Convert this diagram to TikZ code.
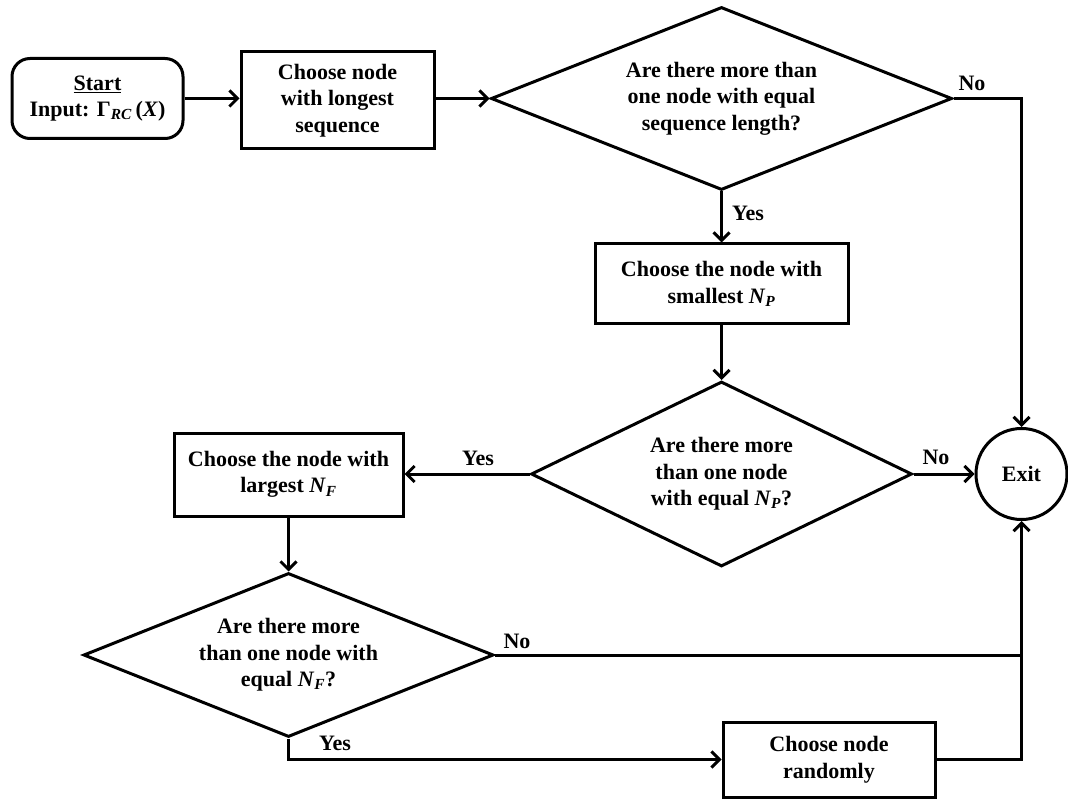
\documentclass[tikz,border=0pt]{standalone}
\usepackage{fontspec}
\setmainfont{Liberation Serif}
\usetikzlibrary{shapes.geometric,arrows.meta}
\begin{document}
\begin{tikzpicture}[x=1pt,y=-1pt, line width=3pt,
  font=\fontsize{22}{26.5}\selectfont\bfseries,
  box/.style={draw, rectangle, inner sep=0pt, align=center},
  dia/.style={draw, diamond, inner sep=0pt, align=center},
  arr/.style={-{Straight Barb[length=8pt,width=16pt]}},
  lbl/.style={inner sep=0pt}]
\useasboundingbox (0,0) rectangle (1068,799);
\node[box, rounded corners=18pt, minimum width=171pt, minimum height=80pt] (start) at (97.5,98.5)
  {\underline{Start}\\Input: Γ\textsubscript{\textit{RC}}\,(\textit{X})};
\node[box, minimum width=193pt, minimum height=97pt] (box1) at (337.5,100.5)
  {Choose node\\with longest\\sequence};
\node[dia, aspect=2.5, minimum width=461pt, minimum height=183pt] (d1) at (721.5,98.5)
  {Are there more than\\one node with equal\\sequence length?};
\node[box, minimum width=253pt, minimum height=80pt] (box2) at (721.5,284)
  {Choose the node with\\smallest \textit{N}\textsubscript{\textit{P}}};
\node[dia, aspect=2, minimum width=381pt, minimum height=185pt] (d2) at (721.5,474)
  {Are there more\\than one node\\with equal \textit{N}\textsubscript{\textit{P}}?};
\node[draw, circle, minimum size=91pt, inner sep=0pt] (exit) at (1021.5,474) {Exit};
\node[box, minimum width=229pt, minimum height=83pt] (box3) at (288.5,474.5)
  {Choose the node with\\largest \textit{N}\textsubscript{\textit{F}}};
\node[dia, aspect=2.5, minimum width=410pt, minimum height=164pt] (d3) at (288.5,655)
  {Are there more\\than one node with\\equal \textit{N}\textsubscript{\textit{F}}?};
\node[box, minimum width=212pt, minimum height=75pt] (box4) at (829,759.5)
  {Choose node\\randomly};

\draw[arr] (start.east) -- (start.east -| box1.west);
\draw[arr] (box1.east |- d1.west) -- (d1.west);
\draw[arr] (d1.east) -| (exit.north);
\draw[arr] (d1.south) -- (box2.north);
\draw[arr] (box2.south) -- (d2.north);
\draw[arr] (d2.east) -- (exit.west);
\draw[arr] (d2.west) -- (d2.west -| box3.east);
\draw[arr] (box3.south) -- (d3.north);
\draw (d3.east) -- (d3.east -| exit.south);
\draw[arr] (d3.south) |- (box4.west);
\draw[arr] (box4.east) -| (exit.south);

\node[lbl] (l1) at (972,83) {No};
\node[lbl] (l2) at (748,213) {Yes};
\node[lbl] (l3) at (936,457) {No};
\node[lbl] (l4) at (478,458) {Yes};
\node[lbl] (l5) at (517,641) {No};
\node[lbl] (l6) at (335,743) {Yes};
\end{tikzpicture}
\end{document}
